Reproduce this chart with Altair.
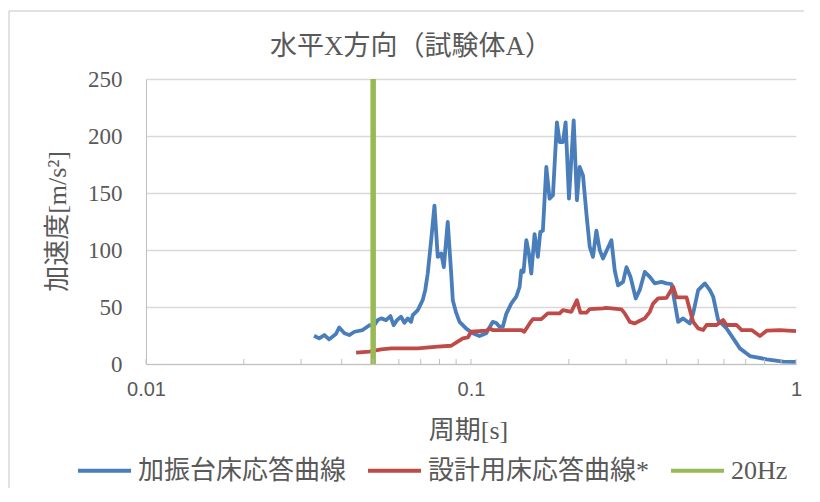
import altair as alt
import pandas as pd

# ---- data ----
TITLE = ["水平X方向（試験体A）"]
SERIES = ["加振台床応答曲線", "設計用床応答曲線*", "20Hz"]
COLORS = ["#4A7EBB", "#BE4B48", "#98B954"]

blue_period = [0.0329, 0.0341, 0.0354, 0.0366, 0.0384, 0.0393, 0.0408, 0.0422, 0.0438, 0.0464,
               0.0487, 0.0504, 0.0516, 0.0529, 0.0548, 0.0565, 0.0578, 0.0592, 0.0609, 0.0624,
               0.0639, 0.0654, 0.0662, 0.0686, 0.0710, 0.0723, 0.0736, 0.0754, 0.0772, 0.0790,
               0.0810, 0.0825, 0.0848, 0.0869, 0.0879, 0.0900, 0.0922, 0.0967, 0.1013, 0.1062,
               0.1114, 0.1167, 0.1196, 0.1224, 0.1253, 0.1284, 0.1330, 0.1378, 0.1411, 0.1428,
               0.1451, 0.1480, 0.1507, 0.1533, 0.1569, 0.1606, 0.1634, 0.1664, 0.1705, 0.1745,
               0.1787, 0.1838, 0.1874, 0.1918, 0.1955, 0.2002, 0.2070, 0.2118, 0.2160, 0.2211,
               0.2265, 0.2319, 0.2373, 0.2431, 0.2489, 0.2548, 0.2704, 0.2769, 0.2834, 0.2937,
               0.3009, 0.3095, 0.3213, 0.3306, 0.3425, 0.3549, 0.3677, 0.3856, 0.3995, 0.4140,
               0.4188, 0.4339, 0.4496, 0.4714, 0.4826, 0.5000, 0.5244, 0.5433, 0.5561, 0.5762,
               0.6115, 0.6409, 0.6720, 0.7215, 0.8124, 0.9140, 1.0]
blue_accel = [24.8, 22.5, 25.4, 21.6, 26.3, 32.0, 26.9, 25.4, 28.3, 29.8,
              34.0, 34.0, 38.5, 40.0, 38.5, 42.0, 34.0, 38.5, 41.4, 36.2,
              40.0, 37.0, 42.9, 47.3, 56.0, 64.8, 79.4, 108.6, 139.0, 94.0,
              97.0, 85.0, 124.6, 79.7, 56.0, 45.0, 37.0, 31.0, 27.0, 24.5,
              27.0, 37.0, 36.0, 32.7, 32.7, 44.0, 53.0, 59.0, 67.7, 82.0,
              80.8, 108.6, 97.0, 79.4, 114.0, 94.0, 115.8, 117.0, 172.8, 145.0,
              148.0, 212.0, 194.7, 194.7, 212.0, 145.0, 213.7, 143.6, 172.8, 165.5,
              132.0, 102.7, 94.0, 117.0, 100.0, 92.5, 108.6, 82.0, 69.0, 72.0,
              85.0, 76.5, 57.5, 65.0, 80.8, 76.5, 70.7, 72.0, 70.7, 70.0,
              62.0, 37.0, 40.0, 35.6, 44.4, 64.8, 70.7, 64.8, 59.0, 38.5,
              31.2, 22.5, 13.7, 7.0, 4.1, 2.0, 1.8]

red_period = [0.0443, 0.0487, 0.0529, 0.0568, 0.0686, 0.0790, 0.0869, 0.0900, 0.0944, 0.0978,
              0.1001, 0.1114, 0.1140, 0.1167, 0.1428, 0.1459, 0.1515, 0.1550, 0.1646, 0.1722,
              0.1874, 0.1918, 0.2036, 0.2118, 0.2171, 0.2265, 0.2319, 0.2548, 0.2610, 0.2904,
              0.2972, 0.3079, 0.3191, 0.3306, 0.3425, 0.3549, 0.3633, 0.3764, 0.3995, 0.4188,
              0.4289, 0.4605, 0.4714, 0.4826, 0.5000, 0.5181, 0.5307, 0.5697, 0.5970, 0.6115,
              0.6564, 0.6804, 0.7303, 0.7745, 0.8124, 0.8927, 1.0]
red_accel = [10.0, 10.8, 12.8, 13.7, 13.7, 15.2, 16.0, 18.7, 22.5, 23.3,
             28.3, 29.2, 31.2, 29.8, 29.8, 28.3, 35.6, 39.4, 39.4, 44.4,
             44.4, 47.3, 45.8, 56.0, 45.0, 45.0, 48.2, 48.8, 49.3, 47.9,
             44.4, 37.0, 35.6, 37.9, 40.0, 45.8, 53.0, 57.5, 58.0, 67.7,
             58.4, 58.4, 47.3, 37.0, 31.2, 29.8, 34.2, 34.2, 38.5, 34.2,
             34.2, 29.8, 29.8, 24.5, 29.2, 29.8, 28.9]

hz20_period = [0.05]

x_tick_labels = [0.01, 0.1, 1]
x_minor_ticks = [0.01, 0.02, 0.03, 0.04, 0.05, 0.06, 0.07, 0.08, 0.09,
                 0.1, 0.2, 0.3, 0.4, 0.5, 0.6, 0.7, 0.8, 0.9, 1.0]
y_ticks = [0, 50, 100, 150, 200, 250]

# ---- tables ----
df_blue = pd.DataFrame({"period": blue_period, "accel": blue_accel, "series": SERIES[0]})
df_red = pd.DataFrame({"period": red_period, "accel": red_accel, "series": SERIES[1]})
df_green = pd.DataFrame({"period": hz20_period, "series": SERIES[2]})
df_ticks = pd.DataFrame({"period": x_minor_ticks})
df_title = pd.DataFrame({"t": TITLE})

SERIF = "Liberation Serif, Noto Sans CJK JP"
TXT = "#595959"
W, H = 650, 285

x_enc = alt.X(
    "period:Q",
    scale=alt.Scale(type="log", domain=[0.01, 1], nice=False),
    axis=alt.Axis(
        values=x_tick_labels, format=".2~f", title="周期[s]",
        labelFont="Liberation Sans", labelFontSize=20, labelColor=TXT,
        labelPadding=15, labelFlush=False, labelAlign="center", labelOverlap=False,
        ticks=False, grid=False,
        domainColor="#BFBFBF", domainWidth=1,
        titleFont=SERIF, titleFontSize=26, titleFontWeight="normal", titleColor=TXT,
        titleX=322, titleY=66, titleBaseline="middle", titleAlign="center",
    ),
)
y_enc = alt.Y(
    "accel:Q",
    scale=alt.Scale(domain=[0, 250], nice=False),
    axis=alt.Axis(
        values=y_ticks, title="加速度[m/s²]",
        labelFont="Liberation Serif", labelFontSize=23, labelColor=TXT,
        labelPadding=24, ticks=False, grid=True, gridColor="#D9D9D9", gridWidth=1.3,
        domainColor="#BFBFBF", domainWidth=1,
        titleFont=SERIF, titleFontSize=26, titleFontWeight="normal", titleColor=TXT,
        titleX=-89, titleY=142, titleBaseline="middle", titleAlign="center", titleAngle=-90,
    ),
)
color_enc = alt.Color(
    "series:N",
    scale=alt.Scale(domain=SERIES, range=COLORS),
    legend=alt.Legend(
        title=None, orient="none", direction="horizontal",
        legendX=-70, legendY=363, symbolType="stroke", symbolSize=2809,
        symbolStrokeWidth=4, labelFont=SERIF, labelFontSize=26, labelColor=TXT,
        labelOffset=5, columnPadding=13, labelLimit=400, padding=0,
    ),
)

# chart frame (decorative): left and top edges
frame_left = alt.Chart(alt.Data(values=[{"k": 1}])).mark_rule(
    color="#D9D9D9", strokeWidth=1.5
).encode(x=alt.value(-137), y=alt.value(-68), y2=alt.value(H + 200))
frame_top = alt.Chart(alt.Data(values=[{"k": 1}])).mark_rule(
    color="#D9D9D9", strokeWidth=1.5
).encode(x=alt.value(-137), x2=alt.value(W + 20), y=alt.value(-68))

title = alt.Chart(df_title).mark_text(
    font=SERIF, fontSize=27, color=TXT, align="center", baseline="middle"
).encode(text="t:N", x=alt.value(265), y=alt.value(-32))

blue = alt.Chart(df_blue).mark_line(strokeWidth=3.8, strokeJoin="round").encode(
    x=x_enc, y=y_enc, color=color_enc
)
red = alt.Chart(df_red).mark_line(strokeWidth=3.8, strokeJoin="round").encode(
    x=x_enc, y=y_enc, color=color_enc
)
green = alt.Chart(df_green).mark_rule(strokeWidth=5.5).encode(
    x=x_enc, y=alt.value(0), y2=alt.value(H), color=color_enc
)
ticks = alt.Chart(df_ticks).mark_rule(color="#BFBFBF", strokeWidth=1).encode(
    x=x_enc, y=alt.value(H), y2=alt.value(H - 5)
)

chart = alt.layer(frame_left, frame_top, title, blue, red, green, ticks).properties(
    width=W, height=H,
    autosize=alt.AutoSizeParams(type="none"),
    padding={"left": 138, "top": 71, "right": 8, "bottom": 124},
).configure_view(stroke=None)

chart.save("out.html", embed_options={"renderer": "svg", "actions": False})
